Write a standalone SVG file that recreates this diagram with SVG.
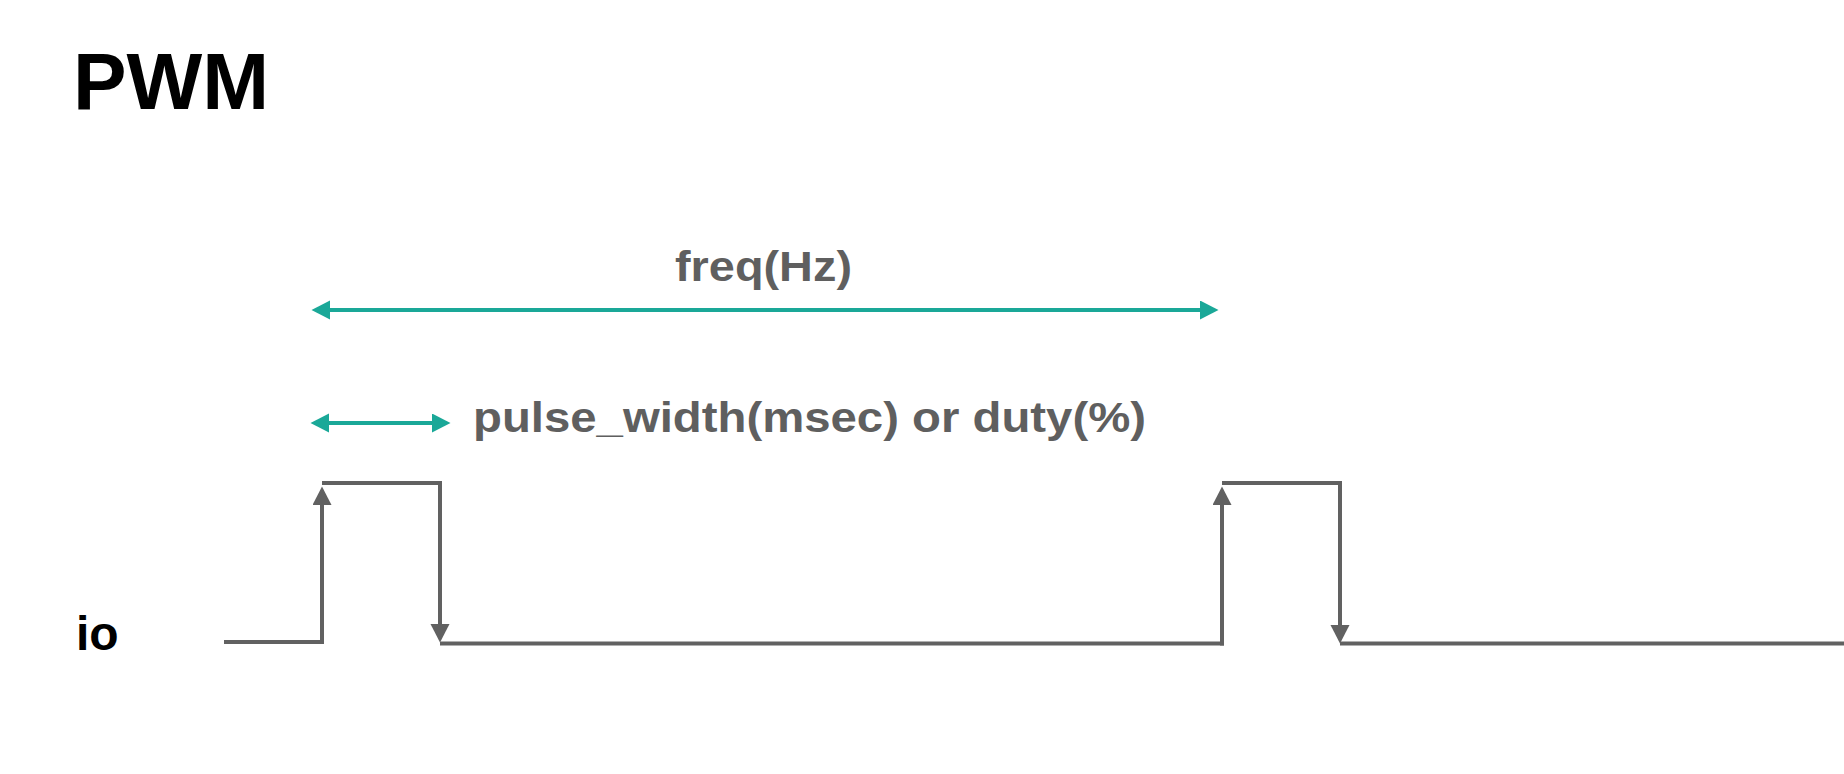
<svg xmlns="http://www.w3.org/2000/svg" width="1844" height="774" viewBox="0 0 1844 774">
  <style>
    .title { font-family: "Liberation Sans", Arial, sans-serif; font-weight: bold; fill: #000000; }
    .label { font-family: "Liberation Sans", Arial, sans-serif; font-weight: bold; font-size: 42px; fill: #5f5f5f; }
    .teal { stroke: #1aa898; stroke-width: 4; fill: none; }
    .wave { stroke: #616161; stroke-width: 4; fill: none; }
  </style>
  <defs>
    <marker id="tealArrow" markerUnits="userSpaceOnUse" markerWidth="20" markerHeight="20" refX="9" refY="9.5" orient="auto-start-reverse" viewBox="0 0 20 20">
      <path d="M0,0 L18.5,9.5 L0,19 Z" fill="#1aa898"/>
    </marker>
    <marker id="greyArrow" markerUnits="userSpaceOnUse" markerWidth="20" markerHeight="20" refX="9" refY="9.5" orient="auto" viewBox="0 0 20 20">
      <path d="M0,0 L18.5,9.5 L0,19 Z" fill="#616161"/>
    </marker>
  </defs>
  <rect width="1844" height="774" fill="#ffffff"/>

  <g id="title">
    <text class="title" x="73" y="109" font-size="80" textLength="196" lengthAdjust="spacingAndGlyphs">PWM</text>
  </g>
  <g id="io-label">
    <text class="title" x="76" y="650" font-size="48">io</text>
  </g>
  <g id="freq-label">
    <text class="label" x="675" y="281" textLength="177" lengthAdjust="spacingAndGlyphs">freq(Hz)</text>
  </g>
  <g id="pulse-label">
    <text class="label" x="473" y="432" textLength="673" lengthAdjust="spacingAndGlyphs">pulse_width(msec) or duty(%)</text>
  </g>

  <g id="connectors">
    <line class="teal" x1="321" y1="310" x2="1209" y2="310" marker-start="url(#tealArrow)" marker-end="url(#tealArrow)"/>
    <line class="teal" x1="320" y1="423" x2="441" y2="423" marker-start="url(#tealArrow)" marker-end="url(#tealArrow)"/>

    <line class="wave" x1="224" y1="642" x2="324" y2="642"/>
    <line class="wave" x1="322" y1="644" x2="322" y2="496" marker-end="url(#greyArrow)"/>
    <line class="wave" x1="322" y1="483" x2="442" y2="483"/>
    <line class="wave" x1="440" y1="481" x2="440" y2="633" marker-end="url(#greyArrow)"/>
    <line class="wave" x1="440" y1="643.5" x2="1224" y2="643.5"/>
    <line class="wave" x1="1222" y1="645.5" x2="1222" y2="496" marker-end="url(#greyArrow)"/>
    <line class="wave" x1="1222" y1="483" x2="1342" y2="483"/>
    <line class="wave" x1="1340" y1="481" x2="1340" y2="634" marker-end="url(#greyArrow)"/>
    <line class="wave" x1="1340" y1="643.5" x2="1844" y2="643.5"/>
  </g>
</svg>
